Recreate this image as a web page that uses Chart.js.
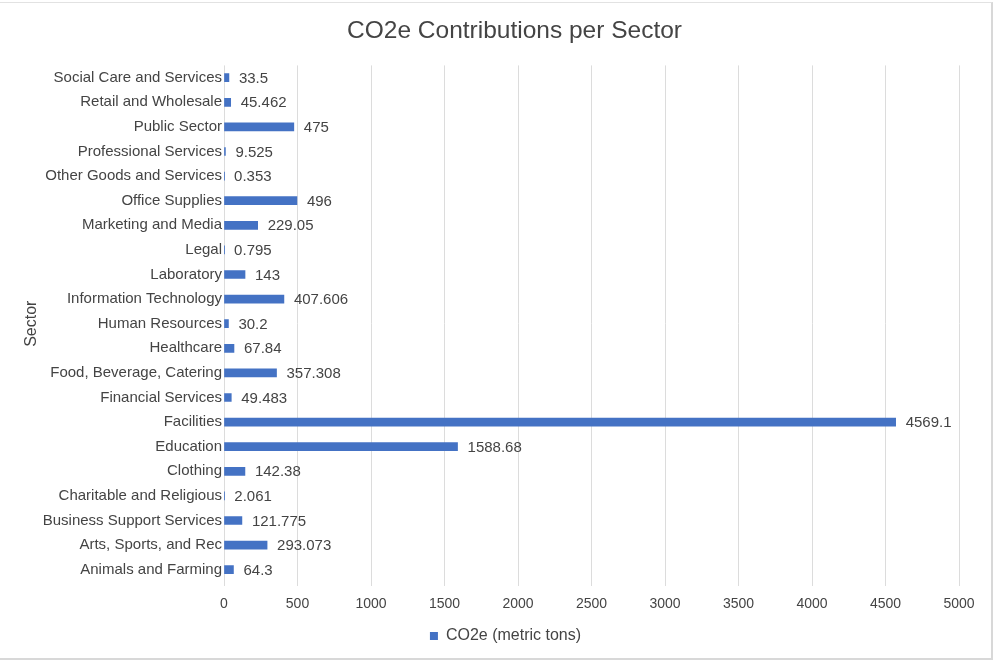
<!DOCTYPE html>
<html>
<head>
<meta charset="utf-8">
<title>CO2e Contributions per Sector</title>
<script src="https://cdn.jsdelivr.net/npm/chart.js@4/dist/chart.umd.min.js"></script>
<style>
    html, body { margin: 0; padding: 0; background: #fff; }
    #wrap { position: relative; width: 995px; height: 664px; }
    #frame {
        position: absolute; left: 0; top: 2px; width: 993px; height: 658px;
        border-top: 1px solid #e2e2e2; border-right: 2px solid #d8d8d8; border-bottom: 2px solid #d8d8d8;
        box-sizing: border-box; pointer-events: none;
    }
    canvas { position: absolute; left: 0; top: 0; }
</style>
</head>
<body>
<div id="wrap">
    <canvas id="sectorChart" width="995" height="664"></canvas>
    <div id="frame"></div>
</div>
<script>
// Sectors, listed top to bottom
const sectors = [
    'Social Care and Services',
    'Retail and Wholesale',
    'Public Sector',
    'Professional Services',
    'Other Goods and Services',
    'Office Supplies',
    'Marketing and Media',
    'Legal',
    'Laboratory',
    'Information Technology',
    'Human Resources',
    'Healthcare',
    'Food, Beverage, Catering',
    'Financial Services',
    'Facilities',
    'Education',
    'Clothing',
    'Charitable and Religious',
    'Business Support Services',
    'Arts, Sports, and Rec',
    'Animals and Farming'
];

// CO2e per sector (metric tons)
const co2e = [
    33.5, 45.462, 475, 9.525, 0.353, 496, 229.05, 0.795, 143, 407.606,
    30.2, 67.84, 357.308, 49.483, 4569.1, 1588.68, 142.38, 2.061, 121.775, 293.073, 64.3
];

const xTicks = [0, 500, 1000, 1500, 2000, 2500, 3000, 3500, 4000, 4500, 5000];

const textColor = '#444';
const fontFamily = '"Liberation Sans", Arial, Helvetica, sans-serif';

// Value labels after each bar end
const valueLabels = {
    id: 'valueLabels',
    afterDatasetsDraw(chart) {
        const ctx = chart.ctx;
        const meta = chart.getDatasetMeta(0);
        ctx.save();
        ctx.font = '15px ' + fontFamily;
        ctx.fillStyle = textColor;
        ctx.textAlign = 'left';
        ctx.textBaseline = 'middle';
        meta.data.forEach(function(bar, i) {
            ctx.fillText(String(co2e[i]), bar.x + 10, bar.y + 1);
        });
        ctx.restore();
    }
};

// Nudge title and legend right so they sit over the bars rather than the canvas middle
const shiftBlocks = {
    id: 'shiftBlocks',
    afterLayout(chart) {
        if (chart.titleBlock) {
            chart.titleBlock.left += 25;
            chart.titleBlock.right += 25;
        }
        if (chart.legend) {
            chart.legend.left += 16;
            chart.legend.right += 16;
        }
    }
};

const ctx = document.getElementById('sectorChart').getContext('2d');
new Chart(ctx, {
    type: 'bar',
    data: {
        labels: sectors,
        datasets: [{
            label: 'CO2e (metric tons)',
            data: co2e,
            backgroundColor: '#4472C4',
            borderWidth: 0,
            barThickness: 8
        }]
    },
    options: {
        indexAxis: 'y',
        responsive: false,
        animation: false,
        layout: {
            padding: { left: 20, right: 36, top: 8, bottom: 10 }
        },
        plugins: {
            title: {
                display: true,
                text: 'CO2e Contributions per Sector',
                color: textColor,
                font: { family: fontFamily, size: 24.5, weight: 'normal' },
                padding: { top: 9, bottom: 19 }
            },
            legend: {
                position: 'bottom',
                labels: {
                    color: textColor,
                    boxWidth: 8,
                    boxHeight: 8,
                    padding: 8,
                    font: { family: fontFamily, size: 16 }
                }
            },
            tooltip: { enabled: false }
        },
        scales: {
            x: {
                min: 0,
                max: 5000,
                afterBuildTicks: function(scale) {
                    scale.ticks = xTicks.map(function(v) { return { value: v }; });
                },
                afterFit: function(scale) { scale.height = 38; },
                grid: { color: '#dcdcdc', drawTicks: true, tickLength: 4 },
                border: { display: false },
                ticks: {
                    color: textColor,
                    padding: 10,
                    maxRotation: 0,
                    font: { family: fontFamily, size: 14 },
                    callback: function(value) { return String(value); }
                }
            },
            y: {
                afterFit: function(scale) { scale.width = 204; },
                grid: { display: false, drawTicks: false },
                border: { display: false },
                title: {
                    display: true,
                    text: 'Sector',
                    color: textColor,
                    padding: { top: 2, bottom: 0 },
                    font: { family: fontFamily, size: 16 }
                },
                ticks: {
                    color: textColor,
                    padding: 2,
                    autoSkip: false,
                    font: { family: fontFamily, size: 15 }
                }
            }
        }
    },
    plugins: [valueLabels, shiftBlocks]
});
</script>
</body>
</html>
